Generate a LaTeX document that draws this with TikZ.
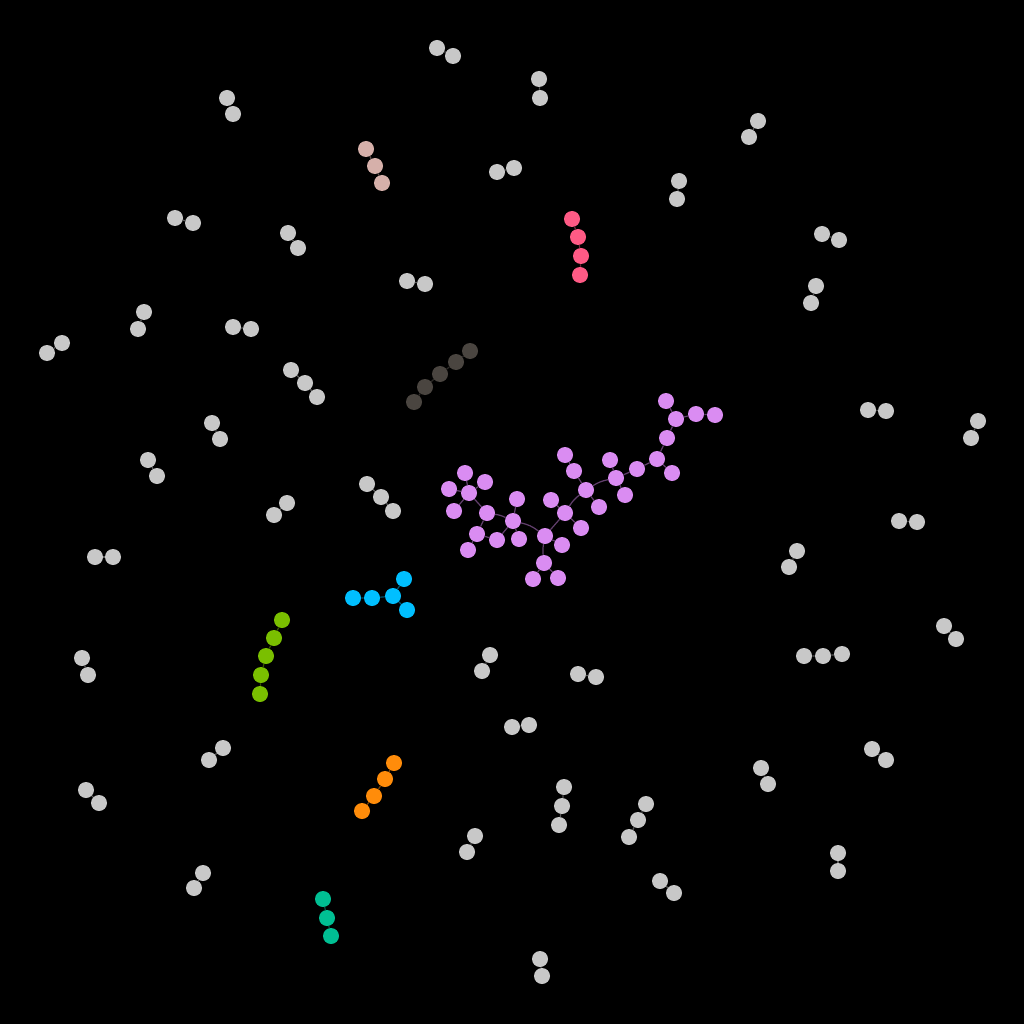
\documentclass[tikz,border=0pt]{standalone}
\usepackage{tikz}
\definecolor{cgrey}{HTML}{C8C8C8}
\definecolor{cpurp}{HTML}{DA8CF2}
\definecolor{ccyan}{HTML}{00BFFF}
\definecolor{cbrown}{HTML}{4A4540}
\definecolor{cred}{HTML}{FF5A85}
\definecolor{cbeige}{HTML}{D6B0AA}
\definecolor{cgreen}{HTML}{7ABF00}
\definecolor{corange}{HTML}{FF8C0A}
\definecolor{cteal}{HTML}{00BF93}
\tikzset{
  dot/.style={circle,inner sep=0pt,minimum size=4mm,fill=#1},
  gn/.style={dot=cgrey}, pn/.style={dot=cpurp}, cn/.style={dot=ccyan},
  bn/.style={dot=cbrown}, rn/.style={dot=cred}, en/.style={dot=cbeige},
  grn/.style={dot=cgreen}, on/.style={dot=corange}, tn/.style={dot=cteal},
  lk/.style={line width=0.3mm,draw=#1!45!black},
}
\begin{document}
\begin{tikzpicture}[x=0.25mm,y=-0.25mm]
\fill[black] (-1,-1) rectangle (1023,1023);
\useasboundingbox (-1,-1) rectangle (1023,1023);
% grey pairs
\foreach \i/\ax/\ay/\bx/\by in {1/436/47/452/55, 2/538/78/539/97, 3/226/97/232/113, 4/757/120/748/136,
 5/496/171/513/167, 6/678/180/676/198, 7/174/217/192/222, 8/287/232/297/247, 9/821/233/838/239,
 10/406/280/424/283, 11/815/285/810/302, 12/143/311/137/328, 13/232/326/250/328, 14/61/342/46/352,
 16/211/422/219/438, 17/867/409/885/410, 18/977/420/970/437, 19/147/459/156/475, 21/286/502/273/514,
 22/898/520/916/521, 23/796/550/788/566, 24/94/556/112/556, 25/943/625/955/638, 26/81/657/87/674,
 27/489/654/481/670, 28/577/673/595/676, 30/511/726/528/724, 31/222/747/208/759, 32/760/767/767/783,
 33/871/748/885/759, 34/85/789/98/802, 37/474/835/466/851, 38/837/852/837/870, 39/202/872/193/887,
 40/659/880/673/892, 41/539/958/541/975}{
  \node[gn] (g\i a) at (\ax,\ay) {};
  \node[gn] (g\i b) at (\bx,\by) {};
  \draw[lk=cgrey] (g\i a) -- (g\i b);
}
% grey triples
\foreach \i/\ax/\ay/\bx/\by/\cx/\cy in {15/290/369/304/382/316/396, 20/366/483/380/496/392/510,
 29/803/655/822/655/841/653, 35/563/786/561/805/558/824, 36/645/803/637/819/628/836}{
  \node[gn] (g\i a) at (\ax,\ay) {};
  \node[gn] (g\i b) at (\bx,\by) {};
  \node[gn] (g\i c) at (\cx,\cy) {};
  \draw[lk=cgrey] (g\i a) -- (g\i b) -- (g\i c);
}
% beige
\node[en] (e1) at (365,148) {};
\node[en] (e2) at (374,165) {};
\node[en] (e3) at (381,182) {};
\draw[lk=cbeige] (e1) -- (e2) -- (e3);
% red
\node[rn] (r1) at (571,218) {};
\node[rn] (r2) at (577,236) {};
\node[rn] (r3) at (580,255) {};
\node[rn] (r4) at (579,274) {};
\draw[lk=cred] (r1) -- (r2) -- (r3) -- (r4);
% brown
\node[bn] (b1) at (413,401) {};
\node[bn] (b2) at (424,386) {};
\node[bn] (b3) at (439,373) {};
\node[bn] (b4) at (455,361) {};
\node[bn] (b5) at (469,350) {};
\draw[line width=0.3mm,draw=cbrown!60!black] (b1) -- (b2) -- (b3) -- (b4) -- (b5);
% cyan
\node[cn] (c1) at (352,597) {};
\node[cn] (c2) at (371,597) {};
\node[cn] (c3) at (392,595) {};
\node[cn] (c4) at (403,578) {};
\node[cn] (c5) at (406,609) {};
\draw[lk=ccyan] (c1) -- (c2) -- (c3) -- (c4);
\draw[lk=ccyan] (c3) -- (c5);
% green
\node[grn] (n1) at (281,619) {};
\node[grn] (n2) at (273,637) {};
\node[grn] (n3) at (265,655) {};
\node[grn] (n4) at (260,674) {};
\node[grn] (n5) at (259,693) {};
\draw[lk=cgreen] (n1) -- (n2) -- (n3) -- (n4) -- (n5);
% orange
\node[on] (o1) at (393,762) {};
\node[on] (o2) at (384,778) {};
\node[on] (o3) at (373,795) {};
\node[on] (o4) at (361,810) {};
\draw[lk=corange] (o1) -- (o2) -- (o3) -- (o4);
% teal
\node[tn] (t1) at (322,898) {};
\node[tn] (t2) at (326,917) {};
\node[tn] (t3) at (330,935) {};
\draw[lk=cteal] (t1) -- (t2) -- (t3);
% purple cluster
\node[pn] (pA) at (564,454) {};
\node[pn] (pB) at (573,470) {};
\node[pn] (pC) at (585,489) {};
\node[pn] (pD) at (464,472) {};
\node[pn] (pE) at (484,481) {};
\node[pn] (pF) at (448,488) {};
\node[pn] (pG) at (468,492) {};
\node[pn] (pH) at (453,510) {};
\node[pn] (pI) at (486,512) {};
\node[pn] (pJ) at (516,498) {};
\node[pn] (pK) at (512,520) {};
\node[pn] (pL) at (550,499) {};
\node[pn] (pM) at (564,512) {};
\node[pn] (pN) at (580,527) {};
\node[pn] (pO) at (476,533) {};
\node[pn] (pP) at (496,539) {};
\node[pn] (pQ) at (518,538) {};
\node[pn] (pR) at (544,535) {};
\node[pn] (pS) at (561,544) {};
\node[pn] (pT) at (467,549) {};
\node[pn] (pU) at (543,562) {};
\node[pn] (pV) at (532,578) {};
\node[pn] (pW) at (557,577) {};
\node[pn] (pa) at (665,400) {};
\node[pn] (pb) at (675,418) {};
\node[pn] (pc) at (695,413) {};
\node[pn] (pd) at (714,414) {};
\node[pn] (pe) at (666,437) {};
\node[pn] (pf) at (656,458) {};
\node[pn] (pg) at (671,472) {};
\node[pn] (ph) at (636,468) {};
\node[pn] (pi) at (609,459) {};
\node[pn] (pj) at (615,477) {};
\node[pn] (pk) at (624,494) {};
\node[pn] (pl) at (598,506) {};
\draw[lk=cpurp] (pA) -- (pB) -- (pC);
\draw[lk=cpurp] (pD) -- (pG);
\draw[lk=cpurp] (pE) -- (pG);
\draw[lk=cpurp] (pF) -- (pG);
\draw[lk=cpurp] (pH) -- (pG);
\draw[lk=cpurp] (pG) -- (pI);
\draw[lk=cpurp] (pI) to[bend left=8] (pK);
\draw[lk=cpurp] (pI) -- (pO) -- (pT);
\draw[lk=cpurp] (pO) -- (pP);
\draw[lk=cpurp] (pP) -- (pK);
\draw[lk=cpurp] (pJ) -- (pK);
\draw[lk=cpurp] (pQ) -- (pK);
\draw[lk=cpurp] (pK) to[bend left=12] (pR);
\draw[lk=cpurp] (pR) -- (pS);
\draw[lk=cpurp] (pR) to[bend right=8] (pU);
\draw[lk=cpurp] (pU) -- (pV);
\draw[lk=cpurp] (pU) -- (pW);
\draw[lk=cpurp] (pR) -- (pM);
\draw[lk=cpurp] (pM) -- (pL);
\draw[lk=cpurp] (pM) -- (pN);
\draw[lk=cpurp] (pM) to[bend left=10] (pC);
\draw[lk=cpurp] (pC) -- (pl);
\draw[lk=cpurp] (pC) to[bend left=10] (pj);
\draw[lk=cpurp] (pj) -- (pi);
\draw[lk=cpurp] (pj) -- (pk);
\draw[lk=cpurp] (pj) -- (ph) -- (pf);
\draw[lk=cpurp] (pf) -- (pg);
\draw[lk=cpurp] (pf) -- (pe) -- (pb);
\draw[lk=cpurp] (pa) -- (pb) -- (pc) -- (pd);
\end{tikzpicture}
\end{document}
